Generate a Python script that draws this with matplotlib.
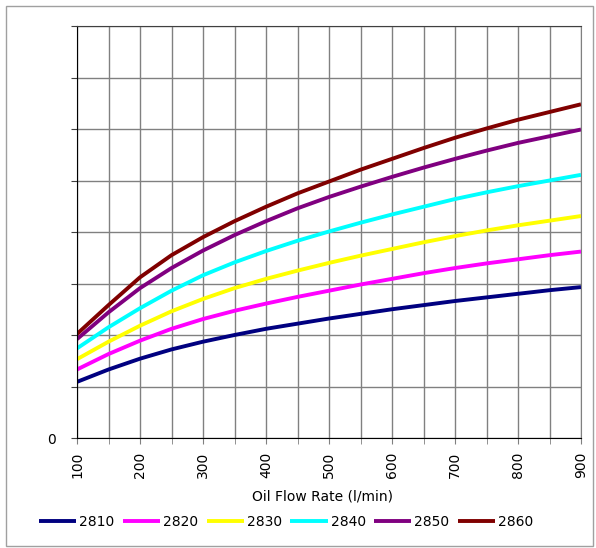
import matplotlib
matplotlib.use("Agg")
import matplotlib.pyplot as plt
from matplotlib.patches import Rectangle
from matplotlib.ticker import MultipleLocator, FuncFormatter

plt.rcParams['font.family'] = ['DejaVu Sans']

# oil flow rate (l/min)
flow = [100, 150, 200, 250, 300, 350, 400, 450, 500,
        550, 600, 650, 700, 750, 800, 850, 900]

# curves
s2810 = [1.09, 1.33, 1.54, 1.72, 1.87, 2.00, 2.12, 2.22, 2.32,
         2.41, 2.50, 2.58, 2.66, 2.73, 2.80, 2.87, 2.93]
s2820 = [1.33, 1.63, 1.89, 2.12, 2.31, 2.47, 2.61, 2.74, 2.86,
         2.98, 3.09, 3.20, 3.30, 3.39, 3.47, 3.55, 3.62]
s2830 = [1.53, 1.87, 2.18, 2.46, 2.70, 2.91, 3.09, 3.25, 3.40,
         3.54, 3.67, 3.80, 3.92, 4.03, 4.13, 4.22, 4.31]
s2840 = [1.74, 2.15, 2.52, 2.86, 3.16, 3.41, 3.63, 3.83, 4.01,
         4.18, 4.34, 4.49, 4.64, 4.77, 4.89, 5.00, 5.11]
s2850 = [1.92, 2.44, 2.91, 3.30, 3.64, 3.94, 4.21, 4.46, 4.68,
         4.88, 5.07, 5.25, 5.42, 5.58, 5.73, 5.86, 5.99]
s2860 = [2.02, 2.58, 3.12, 3.55, 3.90, 4.21, 4.49, 4.75, 4.98,
         5.21, 5.42, 5.63, 5.83, 6.01, 6.18, 6.33, 6.48]

names = ['2810', '2820', '2830', '2840', '2850', '2860']
series = [s2810, s2820, s2830, s2840, s2850, s2860]
colors = ['#000080', '#ff00ff', '#ffff00', '#00ffff', '#800080', '#800000']

fig = plt.figure(figsize=(5.96, 5.48), dpi=100)
ax = fig.add_axes([77 / 596, 110 / 548, 504 / 596, 412 / 548])

# outer border of the chart
fig.patches.append(Rectangle((6 / 596, 2 / 548), 587 / 596, 540 / 548,
                             transform=fig.transFigure, fill=False,
                             edgecolor='#a0a0a0', linewidth=1))

for name, ys, c in zip(names, series, colors):
    ax.plot(flow, ys, color=c, lw=2.8, label=name, solid_capstyle='butt')

ax.set_xlim(100, 900)
ax.set_ylim(0, 8)
ax.xaxis.set_major_locator(MultipleLocator(100))
ax.xaxis.set_minor_locator(MultipleLocator(50))
ax.yaxis.set_major_locator(MultipleLocator(1))
ax.yaxis.set_major_formatter(FuncFormatter(lambda v, p: '0' if abs(v) < 1e-9 else ''))
ax.grid(True, which='both', axis='x', color='#808080', lw=1)
ax.grid(True, which='major', axis='y', color='#808080', lw=1)
ax.set_axisbelow(True)

ax.tick_params(axis='y', length=4, color='#404040', pad=11, labelsize=10)
ax.tick_params(axis='x', which='both', length=4, color='#808080')
ax.tick_params(axis='x', which='major', pad=6, labelsize=10, labelrotation=90)

ax.spines['left'].set_color('black')
ax.spines['bottom'].set_color('black')
ax.spines['top'].set_color('#404040')
ax.spines['right'].set_color('#808080')

ax.set_xlabel('Oil Flow Rate (l/min)', fontsize=10)
ax.xaxis.set_label_coords(0.488, -0.125)

fig.legend(loc='center', bbox_to_anchor=(0.48, 26 / 548), ncol=6,
           frameon=False, fontsize=10, handlelength=2.7,
           handletextpad=0.2, columnspacing=0.6)

fig.savefig('out.png', dpi=100)
